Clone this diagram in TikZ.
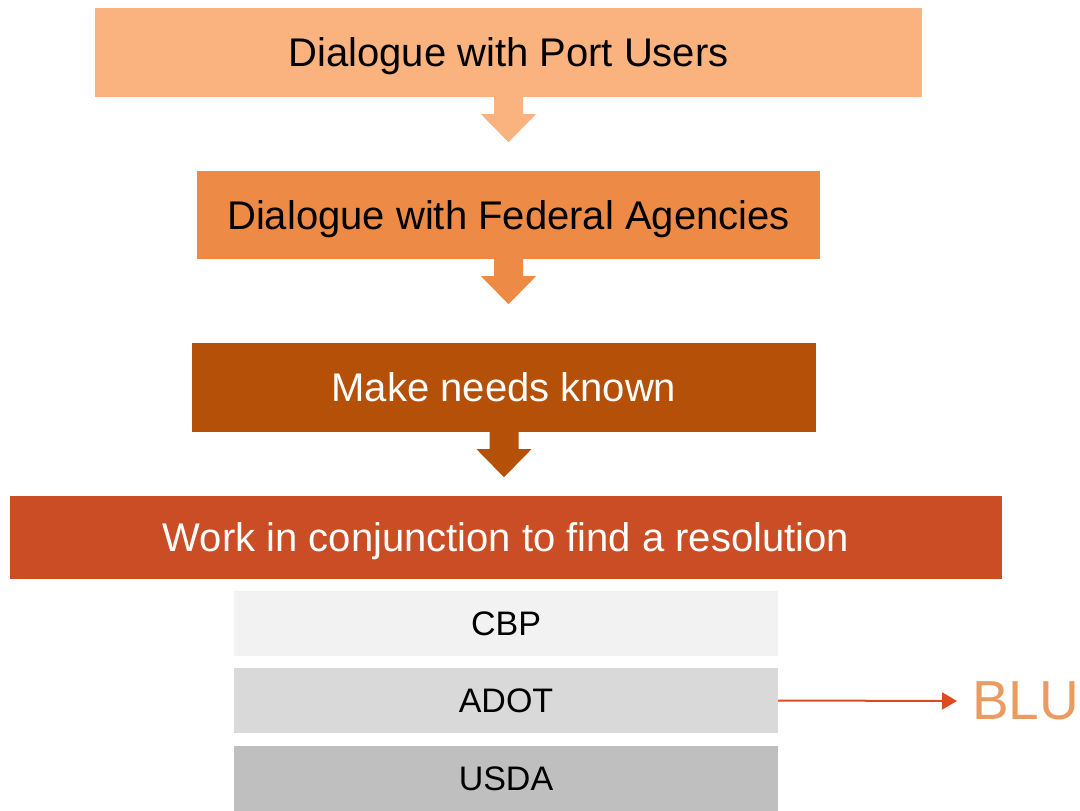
\documentclass[tikz,border=0pt]{standalone}
\usepackage{fontspec}
\setmainfont{Liberation Sans}
\usetikzlibrary{positioning,calc,arrows.meta}
\definecolor{peach}{HTML}{FAB27E}
\definecolor{tangerine}{HTML}{ED8A45}
\definecolor{rust}{HTML}{B55008}
\definecolor{brick}{HTML}{CB4D26}
\definecolor{cbpgray}{HTML}{F2F2F2}
\definecolor{adotgray}{HTML}{D9D9D9}
\definecolor{usdagray}{HTML}{BFBFBF}
\definecolor{linkred}{HTML}{DD4A1E}
\definecolor{blugold}{HTML}{E99B62}

\begin{document}
\begin{tikzpicture}[x=1pt,y=-1pt,
  stage/.style={rectangle,inner sep=0pt,minimum height=89pt,text height=28.6pt,text depth=0pt,font=\fontsize{40}{46}\selectfont},
  agency/.style={rectangle,inner sep=0pt,minimum width=544pt,minimum height=65pt,text height=24.3pt,text depth=0pt,font=\fontsize{34}{39}\selectfont}]
\useasboundingbox (0,0) rectangle (1080,811);
\node (s1) at (508.5,52.5)[stage,fill=peach,minimum width=827pt] {Dialogue with Port Users};
\node (s2) at (508.5,215)[stage,fill=tangerine,minimum width=623pt,minimum height=88pt] {Dialogue with Federal Agencies};
\node (s3) at (504,387.5)[stage,fill=rust,text=white,minimum width=624pt] {Make needs known};
\node (s4) at (506,537.5)[stage,fill=brick,text=white,minimum width=992pt,minimum height=83pt] {Work in conjunction to find a resolution};
\node (cbp) at (506,623.5)[agency,fill=cbpgray] {CBP};
\node (adot) at (506,700.5)[agency,fill=adotgray] {ADOT};
\node (usda) at (506,778.5)[agency,fill=usdagray] {USDA};
\node (blu) at (957,701)[anchor=west,inner xsep=15pt,inner ysep=0pt,text=blugold,font=\fontsize{55}{60}\selectfont] {BLU};
\foreach \a/\c in {s1/peach,s2/tangerine,s3/rust}
  \fill[\c] ($(\a.south)+(-14.5,0)$) -- ++(0,17) -- ++(-13,0) -- ($(\a.south)+(0,45)$)
    -- ($(\a.south)+(27.5,17)$) -- ++(-13,0) -- ($(\a.south)+(14.5,0)$) -- cycle;
\draw[-{Triangle[length=15pt,width=17pt]},linkred,line width=2pt] (adot.east) -- (blu.west);
\end{tikzpicture}
\end{document}
